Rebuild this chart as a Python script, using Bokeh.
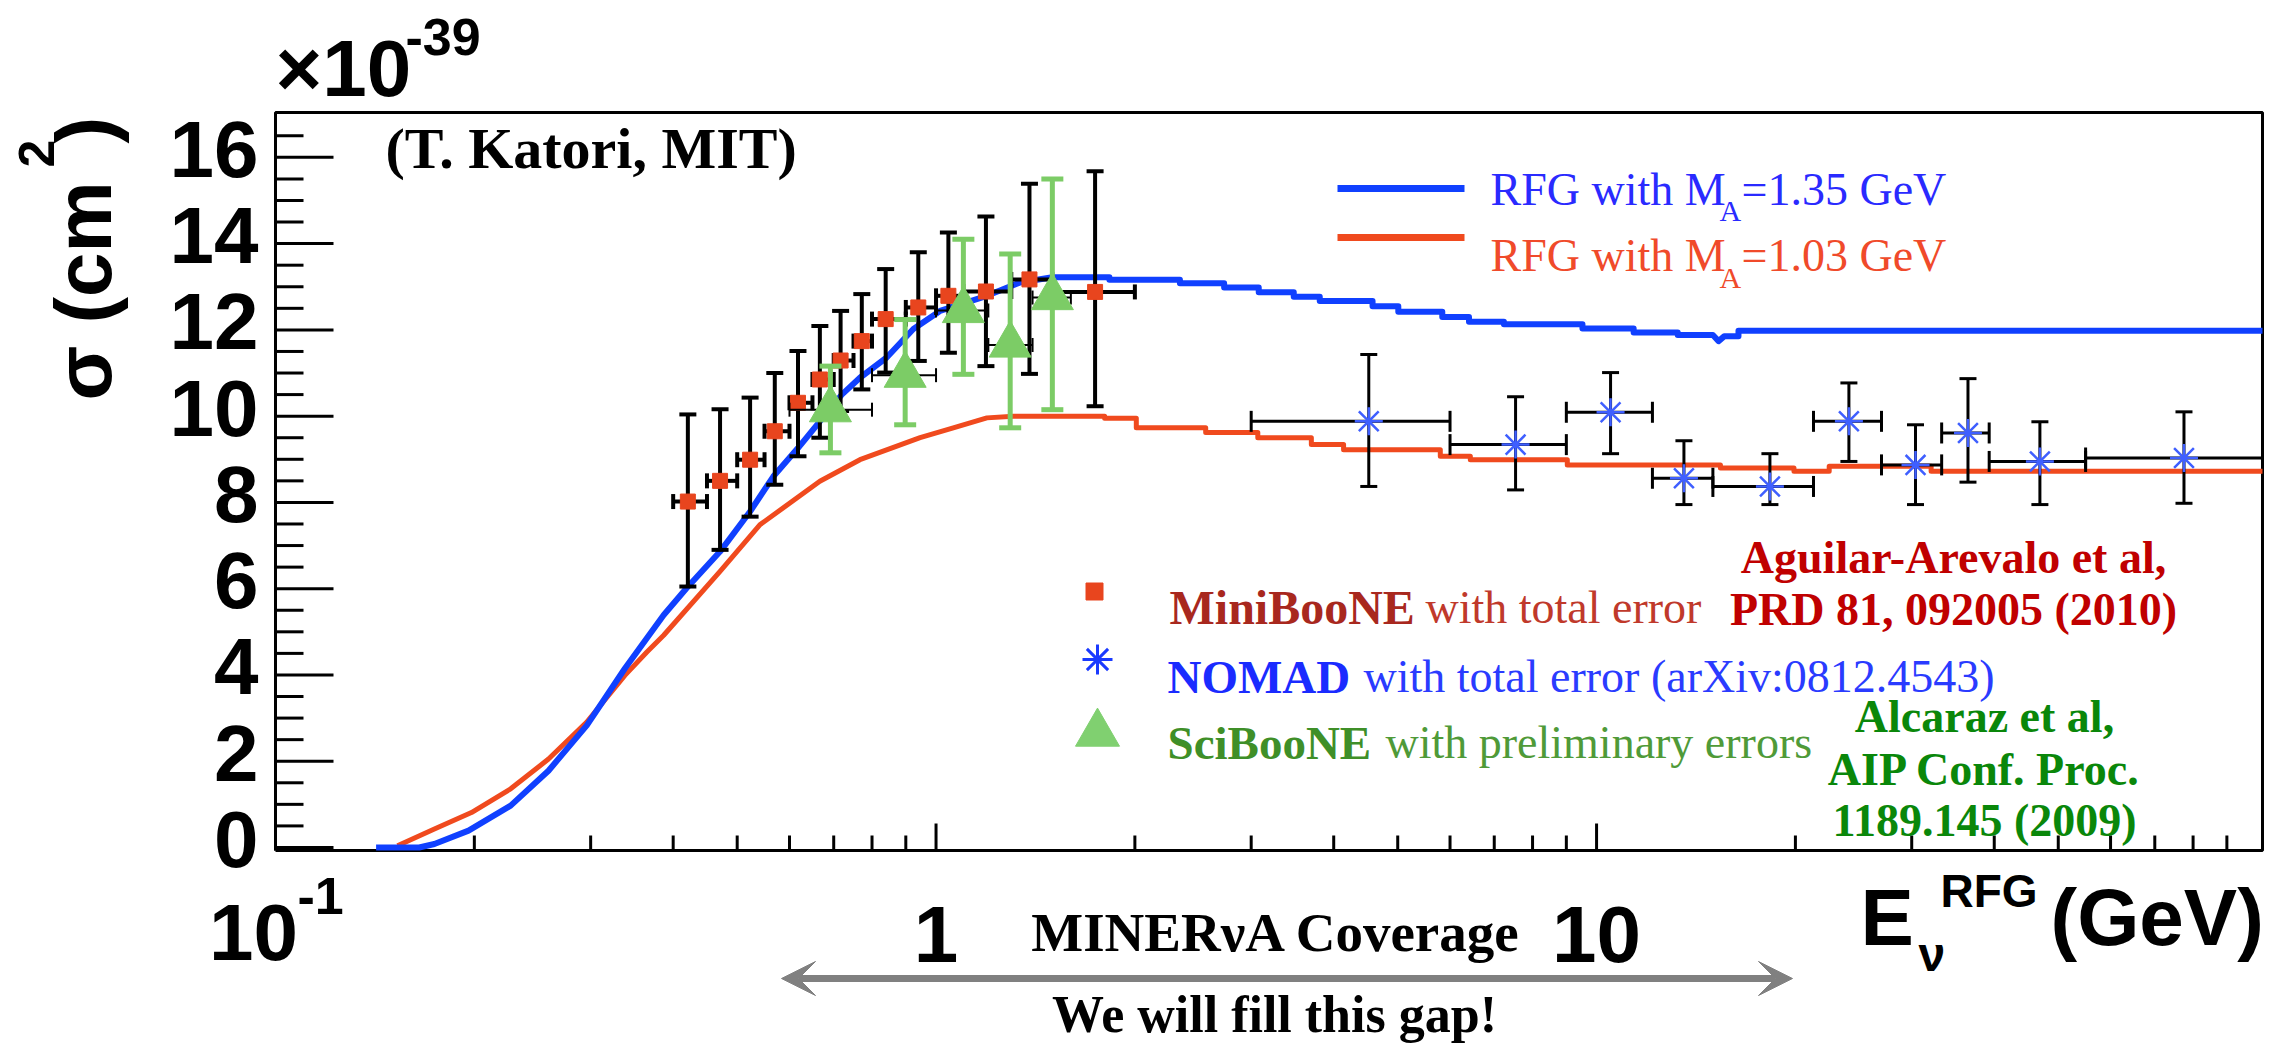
from math import log10, pi
from bokeh.plotting import figure
from bokeh.models import Range1d, Label, Arrow, VeeHead
from bokeh.core.properties import value
from bokeh.embed import file_html
from bokeh.resources import INLINE

# ---------------- data ----------------
# RFG model curve, M_A = 1.35 GeV (blue)
rfg135_E = [0.142, 0.165, 0.174, 0.196, 0.227, 0.259, 0.296, 0.338, 0.387, 0.419,
            0.471, 0.523, 0.567, 0.618, 0.667, 0.720, 0.767, 0.842, 0.924, 1.014,
            1.194, 1.341, 1.50,
            1.83, 1.83, 2.34, 2.34, 2.73, 2.73, 3.08, 3.08, 3.48, 3.48,
            3.81, 3.81, 4.58, 4.58, 5.01, 5.01, 5.84, 5.84, 6.41, 6.41,
            7.24, 7.24, 9.52, 9.52, 11.38, 11.38, 13.27, 13.27,
            15.0, 15.3, 15.6, 16.4, 16.4, 101.9]
rfg135_xs = [0.00, 0.00, 0.08, 0.39, 0.97, 1.78, 2.83, 4.15, 5.39, 6.01,
             6.86, 7.79, 8.60, 9.26, 9.88, 10.50, 10.89, 11.36, 12.02, 12.44,
             12.79, 13.10, 13.22,
             13.22, 13.16, 13.16, 13.08, 13.08, 12.98, 12.98, 12.87, 12.87, 12.77,
             12.77, 12.67, 12.67, 12.55, 12.55, 12.42, 12.42, 12.30, 12.30, 12.19,
             12.19, 12.13, 12.13, 12.03, 12.03, 11.94, 11.94, 11.88,
             11.88, 11.74, 11.85, 11.85, 11.98, 11.98]

# RFG model curve, M_A = 1.03 GeV (red)
rfg103_E = [0.153, 0.174, 0.198, 0.227, 0.259, 0.296, 0.338, 0.365, 0.387,
            0.471, 0.541, 0.667, 0.767, 0.946, 1.062, 1.194, 1.31,
            1.80, 1.80, 2.01, 2.01, 2.56, 2.56, 3.07, 3.07, 3.70, 3.70,
            4.14, 4.14, 5.80, 5.80, 6.44, 6.44, 9.03, 9.03, 15.4, 15.4,
            19.9, 19.9, 22.5, 22.5, 32.1, 32.1, 101.9]
rfg103_xs = [0.04, 0.43, 0.81, 1.36, 2.05, 2.91, 3.99, 4.53, 4.92,
             6.40, 7.48, 8.49, 8.99, 9.50, 9.73, 9.96, 10.0,
             10.0, 9.95, 9.95, 9.73, 9.73, 9.62, 9.62, 9.50, 9.50, 9.34,
             9.34, 9.22, 9.22, 9.07, 9.07, 8.99, 8.99, 8.87, 8.87, 8.80,
             8.80, 8.72, 8.72, 8.84, 8.84, 8.72, 8.72]

# MiniBooNE with total error
mb_E = [0.421, 0.471, 0.523, 0.570, 0.618, 0.667, 0.717, 0.772, 0.839, 0.940, 1.044, 1.190, 1.385, 1.741]
mb_xs = [8.02, 8.50, 8.99, 9.65, 10.31, 10.85, 11.29, 11.74, 12.25, 12.52, 12.79, 12.89, 13.17, 12.88]
mb_hi = [10.04, 10.16, 10.43, 11.00, 11.51, 12.09, 12.44, 12.83, 13.41, 13.80, 14.26, 14.63, 15.39, 15.68]
mb_lo = [6.05, 6.90, 7.67, 8.41, 9.07, 9.50, 10.12, 10.62, 11.01, 11.28, 11.47, 11.16, 10.98, 10.23]
mb_Elo = [0.40, 0.45, 0.50, 0.55, 0.60, 0.65, 0.70, 0.75, 0.80, 0.90, 1.00, 1.10, 1.30, 1.50]
mb_Ehi = [0.45, 0.50, 0.55, 0.60, 0.65, 0.70, 0.75, 0.80, 0.90, 1.00, 1.10, 1.30, 1.50, 2.00]

# NOMAD with total error
nomad_E = [4.52, 7.54, 10.5, 13.56, 18.3, 24.1, 30.4, 36.5, 46.9, 77.5]
nomad_xs = [9.88, 9.34, 10.09, 8.56, 8.37, 9.88, 8.87, 9.61, 8.95, 9.03]
nomad_hi = [11.43, 10.45, 11.01, 9.43, 9.13, 10.77, 9.80, 10.87, 9.87, 10.10]
nomad_lo = [8.37, 8.29, 9.13, 7.95, 7.95, 8.95, 7.95, 8.47, 7.95, 7.98]
nomad_Elo = [3.0, 6.0, 9.0, 12.15, 15.0, 21.3, 27.0, 33.3, 39.3, 55.0]
nomad_Ehi = [6.0, 9.0, 12.15, 15.0, 21.3, 27.0, 33.3, 39.3, 55.0, 101.9]

# SciBooNE with preliminary errors
sb_E = [0.692, 0.898, 1.10, 1.295, 1.50]
sb_xs = [10.15, 10.95, 12.45, 11.65, 12.75]
sb_hi = [11.16, 12.24, 14.10, 13.76, 15.50]
sb_lo = [9.15, 9.80, 10.97, 9.73, 10.15]
sb_Elo = [0.6, 0.8, 1.0, 1.2, 1.4]
sb_Ehi = [0.8, 1.0, 1.2, 1.4, 1.6]

# axes
X0, X1 = 0.1, 101.9          # energy axis range (GeV)
Y0, Y1 = -0.07, 17.04        # cross-section axis range (1e-39 cm^2)
x_major = [1, 10]
x_major_labels = ["1", "10"]
x_minor = [0.2, 0.3, 0.4, 0.5, 0.6, 0.7, 0.8, 0.9, 2, 3, 4, 5, 6, 7, 8, 9,
           20, 30, 40, 50, 60, 70, 80, 90]
y_major = [0, 2, 4, 6, 8, 10, 12, 14, 16]
y_major_labels = ["0", "2", "4", "6", "8", "10", "12", "14", "16"]
y_minor = [0.5 * k for k in range(1, 34) if k % 4 != 0]

# ---------------- layout ----------------
W, H = 2266, 1045
FL, FR, FT, FB = 275, 2262, 112, 850      # plot frame in canvas pixels


def X(px):
    return 10 ** (log10(X0) + (px - FL) / (FR - FL) * (log10(X1) - log10(X0)))


def Y(py):
    return Y0 + (FB - py) / (FB - FT) * (Y1 - Y0)


# the canvas spans the whole page; the plot box is drawn inside it
p = figure(width=W, height=H, x_axis_type="log",
           x_range=Range1d(X(0), X(W)), y_range=Range1d(Y(H), Y(0)),
           output_backend="svg", toolbar_location=None,
           x_axis_location=None, y_axis_location=None,
           min_border_left=0, min_border_right=0, min_border_top=0, min_border_bottom=0)
p.background_fill_color = "white"
p.border_fill_color = "white"
p.outline_line_color = None
p.xgrid.visible = False
p.ygrid.visible = False

SANS = "Liberation Sans"
SERIF = "Liberation Serif"

# ---------------- plot box, ticks and tick labels ----------------
p.line(x=[X0, X1, X1, X0, X0], y=[Y0, Y0, Y1, Y1, Y0], line_color="black", line_width=3)
p.ray(x=[X0] * len(y_major), y=y_major, length=58, length_units="screen", angle=0,
      line_color="black", line_width=3)
p.ray(x=[X0] * len(y_minor), y=y_minor, length=28, length_units="screen", angle=0,
      line_color="black", line_width=3)
p.ray(x=[X0] + x_major, y=[Y0] * (len(x_major) + 1), length=27, length_units="screen", angle=pi / 2,
      line_color="black", line_width=3)
p.ray(x=x_minor, y=[Y0] * len(x_minor), length=15, length_units="screen", angle=pi / 2,
      line_color="black", line_width=3)
# (text anchors below sit at the vertical centre of the digits)
p.text(x=[X0] * len(y_major), y=y_major, text=y_major_labels, text_font=value(SANS),
       text_font_size="80px", text_font_style=value("bold"), text_color="black",
       text_align="right", text_baseline="alphabetic", x_offset=-17, y_offset=-8)
p.text(x=x_major, y=[Y0] * len(x_major), text=x_major_labels, text_font=value(SANS),
       text_font_size="80px", text_font_style=value("bold"), text_color="black",
       text_align="center", text_baseline="alphabetic", y_offset=84)
p.text(x=[X0], y=[Y0], text=["10"], text_font=value(SANS),
       text_font_size="80px", text_font_style=value("bold"), text_color="black",
       text_align="center", text_baseline="alphabetic", x_offset=-22, y_offset=82)
p.text(x=[X0], y=[Y0], text=["-1"], text_font=value(SANS),
       text_font_size="52px", text_font_style=value("bold"), text_color="black",
       text_align="left", text_baseline="alphabetic", x_offset=22, y_offset=45)

# ---------------- model curves ----------------
p.line(rfg103_E, rfg103_xs, line_color="#f04a1e", line_width=5, line_join="round")
p.line(rfg135_E, rfg135_xs, line_color="#1040ff", line_width=6, line_join="round")

# ---------------- MiniBooNE ----------------
p.segment(x0=mb_E, y0=mb_lo, x1=mb_E, y1=mb_hi, line_color="black", line_width=4)
p.segment(x0=mb_Elo, y0=mb_xs, x1=mb_Ehi, y1=mb_xs, line_color="black", line_width=4)
p.scatter(x=mb_E + mb_E, y=mb_hi + mb_lo, marker="dash", size=17, line_color="black", line_width=4)
p.scatter(x=mb_Elo + mb_Ehi, y=mb_xs + mb_xs, marker="dash", angle=pi / 2, size=15,
          line_color="black", line_width=4)
p.scatter(x=mb_E, y=mb_xs, marker="square", size=15, fill_color="#e8451e", line_color="#e8451e")

# ---------------- NOMAD ----------------
p.segment(x0=nomad_E, y0=nomad_lo, x1=nomad_E, y1=nomad_hi, line_color="black", line_width=3)
p.segment(x0=nomad_Elo, y0=nomad_xs, x1=nomad_Ehi, y1=nomad_xs, line_color="black", line_width=3)
p.scatter(x=nomad_E + nomad_E, y=nomad_hi + nomad_lo, marker="dash", size=17,
          line_color="black", line_width=3)
p.scatter(x=nomad_Elo + nomad_Ehi[:-1], y=nomad_xs + nomad_xs[:-1], marker="dash",
          angle=pi / 2, size=21, line_color="black", line_width=3)
p.scatter(x=nomad_E, y=nomad_xs, marker="asterisk", size=28, line_color="#3f5fff", line_width=2.5)

# ---------------- SciBooNE ----------------
p.segment(x0=sb_Elo, y0=sb_xs, x1=sb_Ehi, y1=sb_xs, line_color="black", line_width=2)
p.scatter(x=sb_Elo + sb_Ehi, y=sb_xs + sb_xs, marker="dash", angle=pi / 2, size=14,
          line_color="black", line_width=2)
p.segment(x0=sb_E, y0=sb_lo, x1=sb_E, y1=sb_hi, line_color="#7ccc66", line_width=5)
p.scatter(x=sb_E + sb_E, y=sb_hi + sb_lo, marker="dash", size=22, line_color="#7ccc66", line_width=5)
p.scatter(x=sb_E, y=sb_xs, marker="triangle", size=42, fill_color="#7ccc66", line_color="#7ccc66")

# ---------------- legends (drawn by hand) ----------------
p.segment(x0=[X(1337)], y0=[Y(188)], x1=[X(1464)], y1=[Y(188)], line_color="#1040ff", line_width=7)
p.segment(x0=[X(1337)], y0=[Y(237)], x1=[X(1464)], y1=[Y(237)], line_color="#f04a1e", line_width=7)
p.scatter(x=[X(1094)], y=[Y(591)], marker="square", size=17, fill_color="#e8451e", line_color="#e8451e")
p.scatter(x=[X(1097)], y=[Y(659)], marker="asterisk", size=30, line_color="#1a3aff", line_width=3)
p.scatter(x=[X(1097)], y=[Y(733)], marker="triangle", size=44, fill_color="#80d070", line_color="#80d070")


def txt(s, px, cy, size, color="black", font=SERIF, style="normal", align="left", angle=0.0):
    """px: anchor x (canvas px); cy: vertical centre of the capitals (canvas px)."""
    p.add_layout(Label(x=X(px), y=Y(cy), text=s, text_font=font, text_font_size=f"{size}px",
                       text_font_style=style, text_color=color, text_align=align,
                       text_baseline="alphabetic", angle=angle, angle_units="rad"))


# RFG legend
txt("RFG with M", 1490, 189, 46, "#2a2aff")
txt("A", 1719, 210, 30, "#2a2aff")
txt("=1.35 GeV", 1741, 189, 46, "#2a2aff")
txt("RFG with M", 1490, 255, 46, "#f04a2a")
txt("A", 1719, 277, 30, "#f04a2a")
txt("=1.03 GeV", 1741, 255, 46, "#f04a2a")

# data legend
txt("MiniBooNE", 1169, 607, 48, "#a8281e", style="bold")
txt("with total error", 1425, 607, 46, "#c0392b")
txt("NOMAD", 1167, 676, 47, "#1a2bff", style="bold")
txt("with total error (arXiv:0812.4543)", 1363, 676, 46, "#2a3bff")
txt("SciBooNE", 1167, 742, 47, "#3f8f28", style="bold")
txt("with preliminary errors", 1385, 742, 46, "#4f9a38")

# references
txt("Aguilar-Arevalo et al,", 1953, 557, 46, "#c00000", style="bold", align="center")
txt("PRD 81, 092005 (2010)", 1953, 609, 46, "#c00000", style="bold", align="center")
txt("Alcaraz et al,", 1984, 716, 46, "#0a870a", style="bold", align="center")
txt("AIP Conf. Proc.", 1984, 769, 46, "#0a870a", style="bold", align="center")
txt("1189.145 (2009)", 1984, 820, 46, "#0a870a", style="bold", align="center")

txt("(T. Katori, MIT)", 385, 148, 58, "black", style="bold")

# axis titles
txt("\u00d710", 275, 68, 80, font=SANS, style="bold")
txt("-39", 405, 36, 52, font=SANS, style="bold")
txt("\u03c3 (cm", 83, 400, 80, font=SANS, style="bold", angle=pi / 2)
txt("2", 36, 167, 50, font=SANS, style="bold", angle=pi / 2)
txt(")", 84, 143, 80, font=SANS, style="bold", angle=pi / 2)
txt("E", 1860, 917, 80, font=SANS, style="bold")
txt("\u03bd", 1918, 954, 48, font=SANS, style="bold")
txt("RFG", 1940, 890, 46, font=SANS, style="bold")
txt("(GeV)", 2050, 917, 80, font=SANS, style="bold")

# MINERvA coverage
p.add_layout(Arrow(start=VeeHead(size=34, fill_color="#808080", line_color="#808080"),
                   end=VeeHead(size=34, fill_color="#808080", line_color="#808080"),
                   x_start=X(781), y_start=Y(978), x_end=X(1792), y_end=Y(978),
                   line_color="#808080", line_width=7))
txt("MINER\u03bdA Coverage", 1276, 932, 55, "black", style="bold", align="center")
txt("We will fill this gap!", 1274, 1014, 52, "black", style="bold", align="center")

open("out.html", "w").write(file_html(p, INLINE))
